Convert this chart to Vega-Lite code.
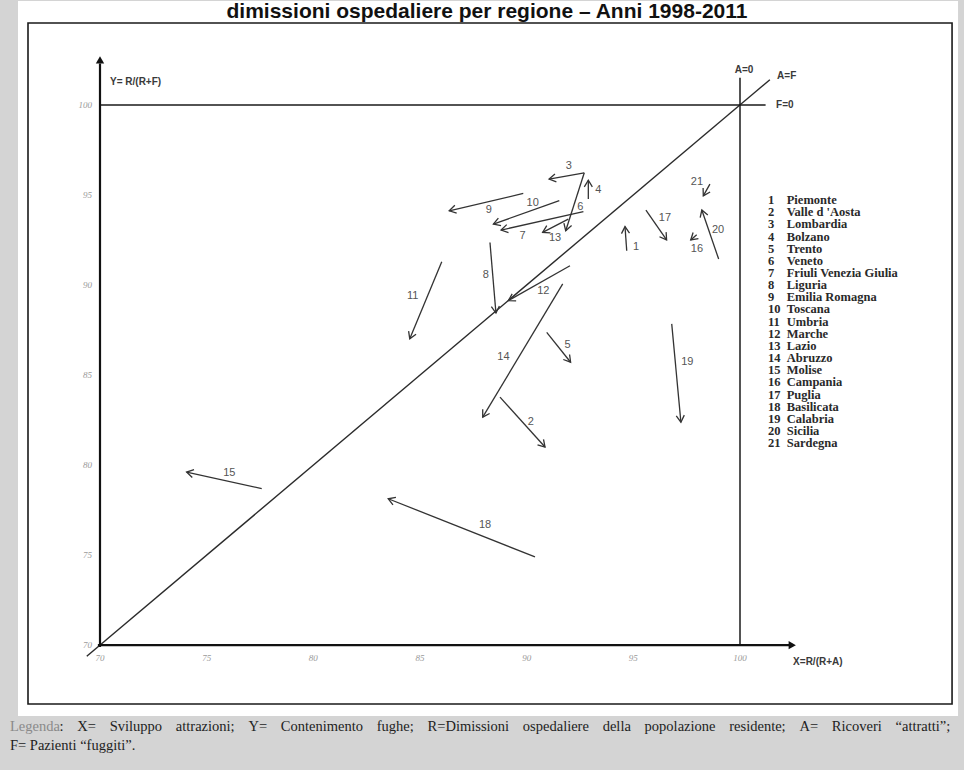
{
  "$schema": "https://vega.github.io/schema/vega-lite/v6.json",
  "width": 964,
  "height": 770,
  "autosize": {"type": "fit", "contains": "padding"},
  "padding": 0,
  "background": "#d4d4d4",
  "config": {"view": {"stroke": null}},
  "datasets": {
    "regioni": [
      {"id": 1, "regione": "Piemonte", "x": 94.69, "y": 91.90, "x2": 94.61, "y2": 93.24, "lx": 95.13, "ly": 92.13},
      {"id": 2, "regione": "Valle d 'Aosta", "x": 88.75, "y": 83.77, "x2": 90.86, "y2": 81.00, "lx": 90.19, "ly": 82.38},
      {"id": 3, "regione": "Lombardia", "x": 92.70, "y": 96.23, "x2": 91.05, "y2": 95.88, "lx": 91.98, "ly": 96.58},
      {"id": 4, "regione": "Bolzano", "x": 92.89, "y": 94.77, "x2": 92.89, "y2": 95.82, "lx": 93.36, "ly": 95.27},
      {"id": 5, "regione": "Trento", "x": 90.94, "y": 87.37, "x2": 92.06, "y2": 85.71, "lx": 91.92, "ly": 86.67},
      {"id": 6, "regione": "Veneto", "x": 92.70, "y": 96.23, "x2": 91.83, "y2": 93.01, "lx": 92.51, "ly": 94.34},
      {"id": 7, "regione": "Friuli Venezia Giulia", "x": 92.66, "y": 94.07, "x2": 88.80, "y2": 93.05, "lx": 89.81, "ly": 92.72},
      {"id": 8, "regione": "Liguria", "x": 88.28, "y": 92.36, "x2": 88.56, "y2": 88.44, "lx": 88.09, "ly": 90.57},
      {"id": 9, "regione": "Emilia Romagna", "x": 89.84, "y": 95.08, "x2": 86.37, "y2": 94.12, "lx": 88.23, "ly": 94.16},
      {"id": 10, "regione": "Toscana", "x": 91.53, "y": 94.68, "x2": 88.44, "y2": 93.38, "lx": 90.28, "ly": 94.55},
      {"id": 11, "regione": "Umbria", "x": 86.02, "y": 91.29, "x2": 84.52, "y2": 87.01, "lx": 84.66, "ly": 89.41},
      {"id": 12, "regione": "Marche", "x": 92.03, "y": 91.07, "x2": 89.14, "y2": 89.13, "lx": 90.78, "ly": 89.69},
      {"id": 13, "regione": "Lazio", "x": 91.95, "y": 93.66, "x2": 90.75, "y2": 92.92, "lx": 91.33, "ly": 92.61},
      {"id": 14, "regione": "Abruzzo", "x": 91.69, "y": 90.06, "x2": 87.94, "y2": 82.66, "lx": 88.91, "ly": 85.99},
      {"id": 15, "regione": "Molise", "x": 77.58, "y": 78.69, "x2": 74.06, "y2": 79.61, "lx": 76.06, "ly": 79.55},
      {"id": 16, "regione": "Campania", "x": 97.97, "y": 92.79, "x2": 97.69, "y2": 92.50, "lx": 97.98, "ly": 92.02},
      {"id": 17, "regione": "Puglia", "x": 95.59, "y": 94.16, "x2": 96.56, "y2": 92.50, "lx": 96.48, "ly": 93.73},
      {"id": 18, "regione": "Basilicata", "x": 90.39, "y": 74.90, "x2": 83.51, "y2": 78.13, "lx": 88.05, "ly": 76.65},
      {"id": 19, "regione": "Calabria", "x": 96.80, "y": 87.84, "x2": 97.23, "y2": 82.38, "lx": 97.53, "ly": 85.71},
      {"id": 20, "regione": "Sicilia", "x": 99.00, "y": 91.44, "x2": 98.21, "y2": 94.16, "lx": 98.97, "ly": 93.07},
      {"id": 21, "regione": "Sardegna", "x": 98.59, "y": 95.60, "x2": 98.28, "y2": 94.95, "lx": 97.98, "ly": 95.73}
    ],
    "tacche": [{"v": 70}, {"v": 75}, {"v": 80}, {"v": 85}, {"v": 90}, {"v": 95}, {"v": 100}],
    "note": [
      {"testo": "Y= R/(R+F)", "x": 70.47, "y": 101.28},
      {"testo": "A=F", "x": 101.74, "y": 101.61},
      {"testo": "F=0", "x": 101.69, "y": 100.0},
      {"testo": "X=R/(R+A)", "x": 102.49, "y": 69.06}
    ]
  },
  "layer": [
    {
      "layer": [
        {
          "data": {"values": [{}]},
          "mark": {"type": "rect", "fill": "white"},
          "encoding": {
            "x": {"datum": 66.156, "type": "quantitative", "scale": {"domain": [65.3125, 110.5], "nice": false, "zero": false}, "axis": null},
            "x2": {"datum": 110.22},
            "y": {"datum": 105.768, "type": "quantitative", "scale": {"domain": [63.068, 105.768], "nice": false, "zero": false}, "axis": null},
            "y2": {"datum": 66.06}
          }
        },
        {
          "data": {"values": [{}]},
          "mark": {"type": "rect", "filled": false, "stroke": "#1a1a1a", "strokeWidth": 1.6},
          "encoding": {
            "x": {"datum": 66.625, "type": "quantitative"},
            "x2": {"datum": 109.94},
            "y": {"datum": 104.55, "type": "quantitative"},
            "y2": {"datum": 66.73}
          }
        },
        {
          "data": {"values": [{}]},
          "mark": {"type": "text", "text": "dimissioni ospedaliere per regione – Anni 1998-2011", "font": "Liberation Sans", "fontWeight": "bold", "fontSize": 21, "align": "center", "baseline": "alphabetic", "color": "#111"},
          "encoding": {
            "x": {"datum": 88.14, "type": "quantitative"},
            "y": {"datum": 104.83, "type": "quantitative"}
          }
        },
        {
          "data": {"values": [{}]},
          "mark": {"type": "rule", "stroke": "#2b2b2b", "strokeWidth": 1.4},
          "encoding": {
            "x": {"datum": 69.38, "type": "quantitative"},
            "y": {"datum": 69.38, "type": "quantitative"},
            "x2": {"datum": 101.4},
            "y2": {"datum": 101.4}
          }
        },
        {
          "data": {"values": [{}]},
          "mark": {"type": "rule", "stroke": "#1a1a1a", "strokeWidth": 1.5},
          "encoding": {
            "x": {"datum": 70, "type": "quantitative"},
            "y": {"datum": 100, "type": "quantitative"},
            "x2": {"datum": 101.2},
            "y2": {"datum": 100}
          }
        },
        {
          "data": {"values": [{}]},
          "mark": {"type": "rule", "stroke": "#1a1a1a", "strokeWidth": 1.5},
          "encoding": {
            "x": {"datum": 100, "type": "quantitative"},
            "y": {"datum": 70, "type": "quantitative"},
            "x2": {"datum": 100},
            "y2": {"datum": 101.5}
          }
        },
        {
          "data": {"values": [{}]},
          "mark": {"type": "rule", "stroke": "#111", "strokeWidth": 2.2},
          "encoding": {
            "x": {"datum": 69.9, "type": "quantitative"},
            "y": {"datum": 70, "type": "quantitative"},
            "x2": {"datum": 102.3},
            "y2": {"datum": 70}
          }
        },
        {
          "data": {"values": [{}]},
          "mark": {"type": "rule", "stroke": "#111", "strokeWidth": 2.2},
          "encoding": {
            "x": {"datum": 70, "type": "quantitative"},
            "y": {"datum": 69.9, "type": "quantitative"},
            "x2": {"datum": 70},
            "y2": {"datum": 102.3}
          }
        },
        {
          "data": {"values": [{}]},
          "mark": {"type": "point", "shape": "triangle-right", "filled": true, "color": "#111", "size": 70, "opacity": 1},
          "encoding": {
            "x": {"datum": 102.45, "type": "quantitative"},
            "y": {"datum": 70, "type": "quantitative"}
          }
        },
        {
          "data": {"values": [{}]},
          "mark": {"type": "point", "shape": "triangle-up", "filled": true, "color": "#111", "size": 70, "opacity": 1},
          "encoding": {
            "x": {"datum": 70, "type": "quantitative"},
            "y": {"datum": 102.5, "type": "quantitative"}
          }
        },
        {
          "data": {"name": "tacche"},
          "mark": {"type": "text", "font": "Liberation Serif", "fontSize": 9, "fontStyle": "italic", "color": "#9a9a9a", "align": "center", "baseline": "middle"},
          "encoding": {
            "x": {"field": "v", "type": "quantitative"},
            "y": {"datum": 69.28, "type": "quantitative"},
            "text": {"field": "v", "type": "quantitative"}
          }
        },
        {
          "data": {"name": "tacche"},
          "mark": {"type": "text", "font": "Liberation Serif", "fontSize": 9, "fontStyle": "italic", "color": "#9a9a9a", "align": "right", "baseline": "middle"},
          "encoding": {
            "x": {"datum": 69.63, "type": "quantitative"},
            "y": {"field": "v", "type": "quantitative"},
            "text": {"field": "v", "type": "quantitative"}
          }
        },
        {
          "data": {"name": "note"},
          "mark": {"type": "text", "font": "Liberation Sans", "fontWeight": "bold", "fontSize": 10, "color": "#3a3a3a", "align": "left", "baseline": "middle"},
          "encoding": {
            "x": {"field": "x", "type": "quantitative"},
            "y": {"field": "y", "type": "quantitative"},
            "text": {"field": "testo"}
          }
        },
        {
          "data": {"values": [{}]},
          "mark": {"type": "text", "text": "A=0", "font": "Liberation Sans", "fontWeight": "bold", "fontSize": 10, "color": "#3a3a3a", "align": "center", "baseline": "middle"},
          "encoding": {
            "x": {"datum": 100.19, "type": "quantitative"},
            "y": {"datum": 101.94, "type": "quantitative"}
          }
        },
        {
          "data": {"name": "regioni"},
          "mark": {"type": "rule", "stroke": "#333", "strokeWidth": 1.3},
          "encoding": {
            "x": {"field": "x", "type": "quantitative"},
            "y": {"field": "y", "type": "quantitative"},
            "x2": {"field": "x2"},
            "y2": {"field": "y2"}
          }
        },
        {
          "data": {"name": "regioni"},
          "transform": [
            {"calculate": "atan2((datum.x2 - datum.x) * 21.333, (datum.y2 - datum.y) * 18.033) * 180 / PI", "as": "ang"}
          ],
          "mark": {"type": "point", "shape": "M-0.6,1L0,0L0.6,1", "filled": false, "stroke": "#333", "strokeWidth": 1.3, "size": 180, "opacity": 1},
          "encoding": {
            "x": {"field": "x2", "type": "quantitative"},
            "y": {"field": "y2", "type": "quantitative"},
            "angle": {"field": "ang", "type": "quantitative", "scale": null}
          }
        },
        {
          "data": {"name": "regioni"},
          "mark": {"type": "text", "font": "Liberation Sans", "fontSize": 11, "color": "#555", "align": "center", "baseline": "middle"},
          "encoding": {
            "x": {"field": "lx", "type": "quantitative"},
            "y": {"field": "ly", "type": "quantitative"},
            "text": {"field": "id", "type": "nominal"}
          }
        },
        {
          "data": {"values": [{}]},
          "mark": {"type": "text", "text": "Legenda", "font": "Liberation Serif", "fontSize": 14.5, "color": "#8a8a8a", "align": "left", "baseline": "middle"},
          "encoding": {
            "x": {"datum": 65.78, "type": "quantitative"},
            "y": {"datum": 65.45, "type": "quantitative"}
          }
        },
        {
          "data": {"values": [{}]},
          "mark": {"type": "text", "text": ": \u2002\u2009X= \u2002\u2009Sviluppo \u2002\u2009attrazioni; \u2002\u2009Y= \u2002\u2009Contenimento \u2002\u2009fughe; \u2002\u2009R=Dimissioni \u2002\u2009ospedaliere \u2002\u2009della \u2002\u2009popolazione \u2002\u2009residente; \u2002\u2009A= \u2002\u2009Ricoveri \u2002\u2009“attratti”;", "font": "Liberation Serif", "fontSize": 14.5, "color": "#222", "align": "left", "baseline": "middle"},
          "encoding": {
            "x": {"datum": 68.1, "type": "quantitative"},
            "y": {"datum": 65.45, "type": "quantitative"}
          }
        },
        {
          "data": {"values": [{}]},
          "mark": {"type": "text", "text": "F= Pazienti “fuggiti”.", "font": "Liberation Serif", "fontSize": 14.5, "color": "#222", "align": "left", "baseline": "middle"},
          "encoding": {
            "x": {"datum": 65.78, "type": "quantitative"},
            "y": {"datum": 64.40, "type": "quantitative"}
          }
        }
      ]
    },
    {
      "data": {"name": "regioni"},
      "layer": [
        {
          "mark": {"type": "text", "font": "Liberation Serif", "fontWeight": "bold", "fontSize": 12.5, "color": "#2a2a2a", "align": "left", "baseline": "middle"},
          "encoding": {
            "x": {"datum": 101.31, "type": "quantitative"},
            "y": {"field": "id", "type": "quantitative", "scale": {"domain": [-15.376, 47.894], "reverse": true, "nice": false, "zero": false}, "axis": null},
            "text": {"field": "id", "type": "nominal"}
          }
        },
        {
          "mark": {"type": "text", "font": "Liberation Serif", "fontWeight": "bold", "fontSize": 12.5, "color": "#2a2a2a", "align": "left", "baseline": "middle"},
          "encoding": {
            "x": {"datum": 102.19, "type": "quantitative"},
            "y": {"field": "id", "type": "quantitative"},
            "text": {"field": "regione", "type": "nominal"}
          }
        }
      ]
    }
  ],
  "resolve": {"scale": {"y": "independent"}}
}
